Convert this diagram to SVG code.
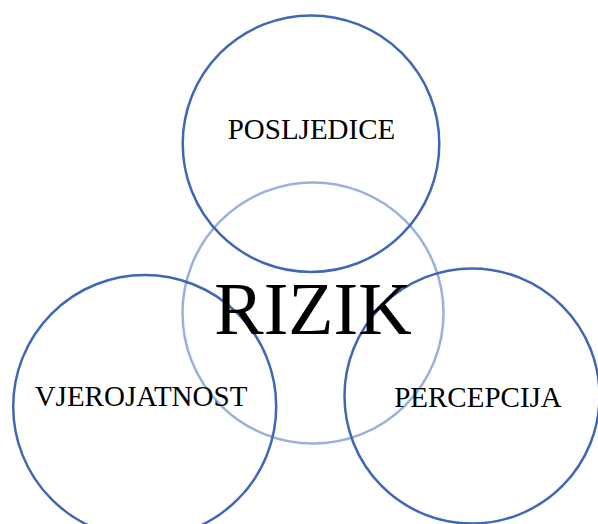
<svg xmlns="http://www.w3.org/2000/svg" width="598" height="524" viewBox="0 0 598 524">
<style>
.c{fill:none;stroke:#3F67B6;stroke-width:2.5}
.m{fill:none;stroke:#9CB1D8;stroke-width:2.5}
.t{font-family:"Liberation Serif","Times New Roman",serif;fill:#000;text-anchor:middle}
.s{font-size:29px}
.b{font-size:74px}
</style>
<rect width="598" height="524" fill="#fff"/>
<g id="rizik-circle"><circle class="m" cx="313" cy="313" r="130.5"/></g>
<g id="posljedice"><circle class="c" cx="311" cy="143.7" r="128.3"/><text class="t s" x="311.5" y="138.5">POSLJEDICE</text></g>
<g id="vjerojatnost"><circle class="c" cx="144.7" cy="406.5" r="131.5"/><text class="t s" x="141" y="405.5">VJEROJATNOST</text></g>
<g id="percepcija"><circle class="c" cx="472" cy="396" r="127.5"/><text class="t s" x="478" y="406.5">PERCEPCIJA</text></g>
<g id="rizik"><text class="t b" x="313" y="333.5">RIZIK</text></g>
<g id="connectors"/>
</svg>
